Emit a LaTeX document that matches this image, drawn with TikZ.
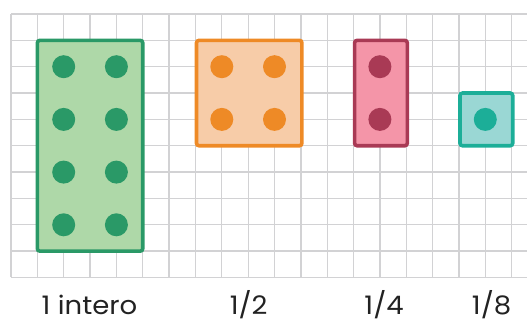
\documentclass[tikz,border=0pt]{standalone}
\usepackage{fontspec}
\setmainfont{Poppins}
\newfontfamily\labfont[FakeStretch=1.08]{Poppins}
\definecolor{gridc}{HTML}{D2D2D4}
\definecolor{greenD}{HTML}{2A9967}
\definecolor{greenL}{HTML}{AED8A8}
\definecolor{orangeD}{HTML}{EE8A26}
\definecolor{orangeL}{HTML}{F7CCA8}
\definecolor{pinkD}{HTML}{A93A55}
\definecolor{pinkL}{HTML}{F495A8}
\definecolor{tealD}{HTML}{1CAE98}
\definecolor{tealL}{HTML}{9AD7D4}
\definecolor{textc}{HTML}{222222}
\tikzset{
  gridline/.style={draw=gridc, line width=1.3pt},
  piece/.style={rectangle, draw=#1D, fill=#1L, line width=3.6pt, rounded corners=2.5pt, inner sep=0pt},
  dot/.style={circle, fill=#1D, minimum size=23pt, inner sep=0pt},
  lab/.style={anchor=base, text=textc, font=\labfont\fontsize{25.5}{28}\selectfont, inner sep=0pt}
}
\begin{document}
\begin{tikzpicture}[shift={(11pt,-14pt)}, x=26.35pt, y=-26.35pt]
\useasboundingbox (-0.41746,-0.53131) rectangle (19.58254,11.61290);
% grid
\foreach \k in {0,...,10} \draw[gridline] (0,\k) -- (19.6,\k);
\foreach \k in {0,...,19} \draw[gridline] (\k,0) -- (\k,10);
% pieces
\node[piece=green, minimum width=105.4pt, minimum height=210.8pt] (whole) at (3,5) {};
\node[piece=orange, minimum width=105.4pt, minimum height=105.4pt] (half) at (9.04,3) {};
\node[piece=pink, minimum width=52.7pt, minimum height=105.4pt] (quarter) at (14.04,3) {};
\node[piece=teal, minimum width=52.7pt, minimum height=52.7pt] (eighth) at (18.04,4) {};
% dots
\node[dot=green] (g1) at (2,2) {};
\node[dot=green] (g2) at (4,2) {};
\node[dot=green] (g3) at (2,4) {};
\node[dot=green] (g4) at (4,4) {};
\node[dot=green] (g5) at (2,6) {};
\node[dot=green] (g6) at (4,6) {};
\node[dot=green] (g7) at (2,8) {};
\node[dot=green] (g8) at (4,8) {};
\node[dot=orange] (o1) at (8,2) {};
\node[dot=orange] (o2) at (10,2) {};
\node[dot=orange] (o3) at (8,4) {};
\node[dot=orange] (o4) at (10,4) {};
\node[dot=pink] (p1) at (14,2) {};
\node[dot=pink] (p2) at (14,4) {};
\node[dot=teal] (t1) at (18,4) {};
% labels
\node[lab] (l1) at (2.98,11.39) {1 intero};
\node[lab] (l2) at (9.02,11.39) {1/2};
\node[lab] (l3) at (14.16,11.39) {1/4};
\node[lab] (l4) at (18.24,11.39) {1/8};
\end{tikzpicture}
\end{document}
